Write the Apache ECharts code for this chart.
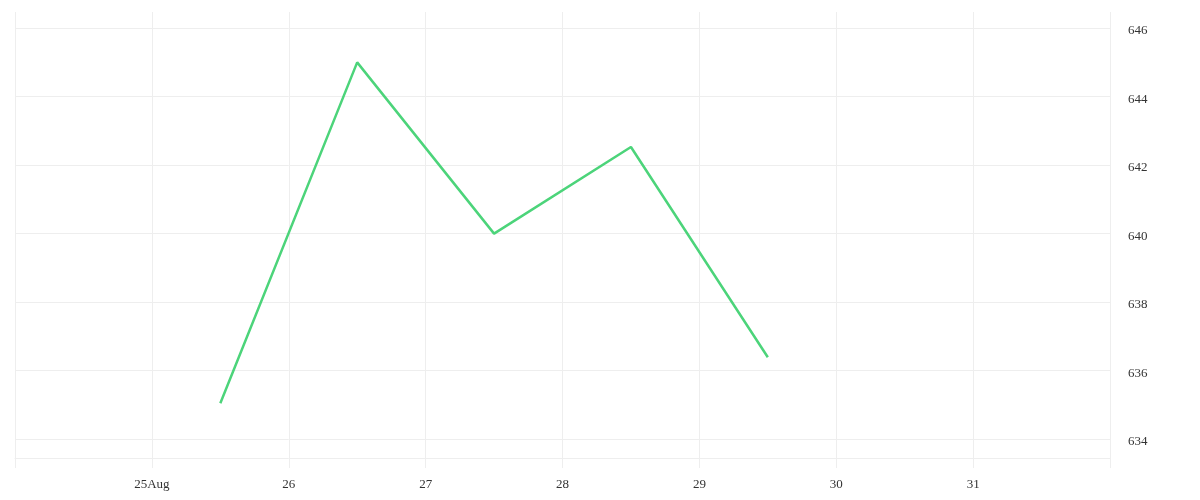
<!DOCTYPE html>
<html>
<head>
<meta charset="utf-8">
<script src="https://cdn.jsdelivr.net/npm/echarts@6/dist/echarts.min.js"></script>
<style>
html,body{margin:0;padding:0;background:#fff;}
#chart{width:1200px;height:500px;}
</style>
</head>
<body>
<div id="chart"></div>
<script>
// Data
const times = ['2024-08-25T12:00:00Z', '2024-08-26T12:00:00Z', '2024-08-27T12:00:00Z', '2024-08-28T12:00:00Z', '2024-08-29T12:00:00Z'];
const values = [635.05, 645.0, 640.0, 642.53, 636.39];
const yTicks = [634, 636, 638, 640, 642, 644, 646];
const xMin = '2024-08-24T00:00:00Z';
const xMax = '2024-09-01T00:00:00Z';
const yMin = 633.45;
const yMax = 646.47;

const chart = echarts.init(document.getElementById('chart'));
const font = 'Liberation Serif';
const DAY = 86400000;
chart.setOption({
  animation: false,
  grid: {left: 15, right: 90, top: 12, bottom: 42, containLabel: false},
  xAxis: {
    type: 'value',
    min: Date.parse(xMin),
    max: Date.parse(xMax),
    interval: DAY,
    axisLine: {show: true, lineStyle: {color: '#eeeeee', width: 1}},
    axisTick: {show: true, length: 10, lineStyle: {color: '#eeeeee'}},
    splitLine: {show: true, lineStyle: {color: '#eeeeee', width: 1}},
    axisLabel: {
      margin: 20,
      color: '#333', fontFamily: font, fontSize: 13,
      formatter: function (v) {
        if (v <= Date.parse(xMin) || v >= Date.parse(xMax)) return '';
        const d = new Date(v);
        const day = d.getUTCDate();
        return day === 25 ? '25Aug' : String(day);
      }
    }
  },
  yAxis: {
    type: 'value',
    position: 'right',
    min: yMin,
    max: yMax,
    axisLine: {show: false},
    axisTick: {show: false, customValues: yTicks},
    splitLine: {show: true, lineStyle: {color: '#eeeeee', width: 1}},
    axisLabel: {
      customValues: yTicks,
      margin: 18,
      color: '#333', fontFamily: font, fontSize: 13,
      formatter: function (v) { return '{a|' + v + '}'; },
      rich: {a: {padding: [5, 0, 0, 0], color: '#333', fontFamily: font, fontSize: 13}}
    }
  },
  series: [{
    type: 'line',
    data: times.map((t, i) => [Date.parse(t), values[i]]),
    showSymbol: false,
    symbol: 'none',
    lineStyle: {color: '#4cd47a', width: 2.5},
    itemStyle: {color: '#4cd47a'}
  }]
});
</script>
</body>
</html>
